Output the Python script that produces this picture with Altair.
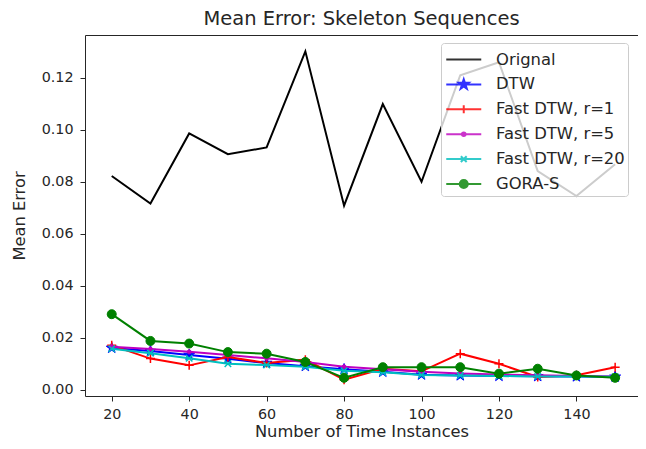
import math
import altair as alt
import pandas as pd

# ---------------- data ----------------
x_vals = [20, 30, 40, 50, 60, 70, 80, 90, 100, 110, 120, 130, 140, 150]
series_names = ["Orignal", "DTW", "Fast DTW, r=1", "Fast DTW, r=5", "Fast DTW, r=20", "GORA-S"]

orignal = [0.0822, 0.0716, 0.0986, 0.0906, 0.0932, 0.1302, 0.0708, 0.1099, 0.0800, 0.1210, 0.1260, 0.0841, 0.0745, 0.0867]
dtw = [0.0160, 0.0148, 0.0133, 0.0118, 0.0102, 0.0090, 0.0078, 0.0068, 0.0057, 0.0054, 0.0052, 0.0051, 0.0050, 0.0049]
fast_r1 = [0.0170, 0.0119, 0.0093, 0.0125, 0.0102, 0.0115, 0.0038, 0.0080, 0.0070, 0.0138, 0.0099, 0.0048, 0.0055, 0.0086]
fast_r5 = [0.0165, 0.0156, 0.0145, 0.0133, 0.0120, 0.0106, 0.0088, 0.0078, 0.0068, 0.0062, 0.0058, 0.0055, 0.0052, 0.0050]
fast_r20 = [0.0157, 0.0140, 0.0120, 0.0099, 0.0094, 0.0088, 0.0072, 0.0066, 0.0056, 0.0054, 0.0052, 0.0050, 0.0050, 0.0049]
gora_s = [0.0290, 0.0187, 0.0177, 0.0144, 0.0138, 0.0106, 0.0045, 0.0086, 0.0086, 0.0086, 0.0061, 0.0080, 0.0054, 0.0045]

series_values = [orignal, dtw, fast_r1, fast_r5, fast_r20, gora_s]
x_ticks = [20, 40, 60, 80, 100, 120, 140]
y_ticks = [0.00, 0.02, 0.04, 0.06, 0.08, 0.10, 0.12]

# ---------------- styles ----------------
colors = ["#000000", "#0000ff", "#ff0000", "#bf00bf", "#00bfbf", "#008000"]
FONT = "DejaVu Sans"
INK = "#262626"


def f(v):
    return f"{v:.4f}"


def circle(r, cx=0.0):
    return (f"M{f(cx + r)},0A{f(r)},{f(r)},0,1,1,{f(cx - r)},0"
            f"A{f(r)},{f(r)},0,1,1,{f(cx + r)},0Z")


def star(R, cx=0.0):
    pts = []
    for k in range(10):
        rad = R if k % 2 == 0 else R * 0.382
        a = math.radians(-90 + 36 * k)
        pts.append((cx + rad * math.cos(a), rad * math.sin(a)))
    return "M" + "L".join(f"{f(px)},{f(py)}" for px, py in pts) + "Z"


def plus(a, cx=0.0):
    return f"M{f(cx - a)},0L{f(cx + a)},0M{f(cx)},{f(-a)}L{f(cx)},{f(a)}"


def xmark(a, cx=0.0):
    return (f"M{f(cx - a)},{f(-a)}L{f(cx + a)},{f(a)}"
            f"M{f(cx - a)},{f(a)}L{f(cx + a)},{f(-a)}")


# marker definitions in plot units (size 100 -> 1 unit = 5px)
marker_defs = [None, ("star", 1.15), ("plus", 0.9), ("circle", 0.4), ("x", 0.65), ("circle", 0.9)]
marker_sw = [0, 1, 1.5, 1, 1.5, 1]


def make_marker(defn, scale=1.0, cx=0.0):
    kind, s = defn
    s = s * scale
    if kind == "star":
        return star(s, cx)
    if kind == "plus":
        return plus(s, cx)
    if kind == "x":
        return xmark(s, cx)
    return circle(s, cx)


# legend symbols: symbolSize 625 -> 1 unit = 12.5px
LX0, LX1, LCX = -0.90, 1.90, 0.50
legend_paths = []
for d in marker_defs:
    p = f"M{f(LX0)},0L{f(LX1)},0"
    if d is not None:
        p += make_marker(d, scale=0.36, cx=LCX)
    legend_paths.append(p)

rows = []
for name, vals in zip(series_names, series_values):
    for xv, yv in zip(x_vals, vals):
        rows.append({"n": xv, "err": yv, "series": name})
df = pd.DataFrame(rows)

xscale = alt.Scale(domain=[13.1, 155.9], nice=False, zero=False)
yscale = alt.Scale(domain=[-0.0025, 0.1365], nice=False, zero=False)

X = alt.X("n:Q", scale=xscale, axis=alt.Axis(values=x_ticks, title="Number of Time Instances",
                                              labelPadding=6, titlePadding=2))
Y = alt.Y("err:Q", scale=yscale, axis=alt.Axis(values=y_ticks, format=".2f", title="Mean Error",
                                                labelPadding=7, titlePadding=14))

base = alt.Chart(df)
layers = []
for i, name in enumerate(series_names):
    sub = base.transform_filter(alt.datum.series == name)
    layers.append(sub.mark_line(color=colors[i], strokeWidth=2).encode(x=X, y=Y))
    if marker_defs[i] is not None:
        layers.append(
            sub.mark_point(shape=make_marker(marker_defs[i]), size=100, fill=colors[i],
                           stroke=colors[i], strokeWidth=marker_sw[i], opacity=1, filled=True)
            .encode(x=X, y=Y)
        )

leg = alt.Legend(title=None, orient="none", legendX=356, legendY=8, padding=3,
                 symbolSize=625, symbolStrokeWidth=2, symbolOpacity=0.8,
                 labelFontSize=16.4, labelFont=FONT, labelColor=INK, labelOffset=25,
                 rowPadding=2.9, strokeColor="#cccccc", fillColor="rgba(255,255,255,0.8)",
                 cornerRadius=3)

cscale = alt.Scale(domain=series_names, range=colors)
legend_layer = base.mark_point(opacity=0, filled=True).encode(
    x=X, y=Y,
    fill=alt.Fill("series:N", scale=cscale, legend=leg, sort=series_names),
    stroke=alt.Stroke("series:N", scale=cscale, legend=leg, sort=series_names),
    shape=alt.Shape("series:N", scale=alt.Scale(domain=series_names, range=legend_paths),
                    legend=leg, sort=series_names),
)
layers.append(legend_layer)

chart = (
    alt.layer(*layers)
    .properties(
        width=553, height=361,
        autosize=alt.AutoSizeParams(type="none"),
        padding={"left": 77, "top": 27, "right": 0, "bottom": 45},
        title=alt.Title("Mean Error: Skeleton Sequences", fontSize=19.5, font=FONT,
                        fontWeight="normal", color=INK, baseline="alphabetic", offset=-9.5,
                        anchor="middle", frame="group"),
    )
    .configure_view(stroke=INK, strokeWidth=1)
    .configure_axis(domain=False, grid=False, tickColor=INK, tickSize=5, tickWidth=1,
                    labelColor=INK, titleColor=INK, labelFont=FONT, titleFont=FONT,
                    labelFontSize=14.3, titleFontSize=16.3, titleFontWeight="normal")
)

chart.save("out.html", embed_options={"renderer": "svg", "actions": False})
